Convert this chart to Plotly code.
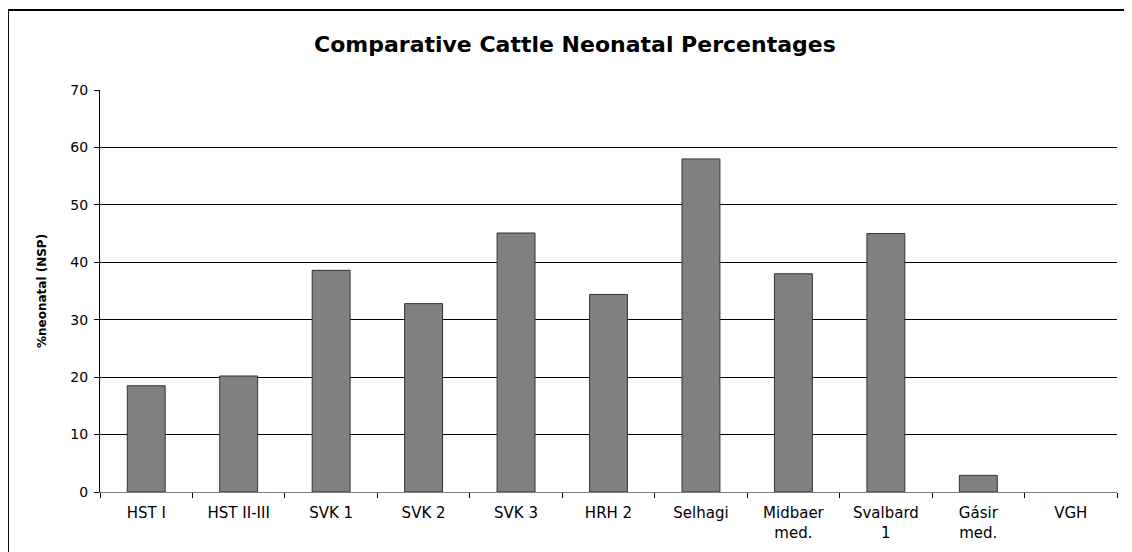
import plotly.graph_objects as go

# data
sites = ["HST I", "HST II-III", "SVK 1", "SVK 2", "SVK 3", "HRH 2", "Selhagi",
         "Midbaer<br>med.", "Svalbard<br>1", "Gásir<br>med.", "VGH"]
neonatal_pct = [18.5, 20.2, 38.6, 32.8, 45.1, 34.4, 58.0, 38.0, 45.0, 2.9, 0]
y_ticks = [0, 10, 20, 30, 40, 50, 60, 70]

FONT = "DejaVu Sans, Liberation Sans, Arial, sans-serif"

fig = go.Figure()

# zero bars get no outline, so nothing shows for VGH
outline_w = [1 if v > 0 else 0 for v in neonatal_pct]

fig.add_trace(go.Bar(
    x=sites, y=neonatal_pct,
    marker=dict(color="#808080", line=dict(color="#333333", width=outline_w)),
    showlegend=False,
))

# outer chart border (left + top, as in the reference)
fig.add_shape(type="line", xref="paper", yref="paper",
              x0=-0.0905, x1=-0.0905, y0=-0.3, y1=1.199,
              line=dict(color="black", width=2))
fig.add_shape(type="line", xref="paper", yref="paper",
              x0=-0.0905, x1=1.03, y0=1.199, y1=1.199,
              line=dict(color="black", width=2))

fig.add_annotation(text="<b>Comparative Cattle Neonatal Percentages</b>",
                   xref="paper", yref="paper", x=0.467, y=1.112,
                   xanchor="center", yanchor="middle", showarrow=False,
                   font=dict(size=22, color="black", family=FONT))
fig.add_annotation(text="<b>%neonatal (NSP)</b>", textangle=-90,
                   xref="paper", yref="paper", x=-0.057, y=0.50,
                   xanchor="center", yanchor="middle", showarrow=False,
                   font=dict(size=12, color="black", family=FONT))

# margins allow for the 8px page offset of the html body
fig.update_layout(
    width=1132, height=552,
    paper_bgcolor="white", plot_bgcolor="white",
    margin=dict(l=92, r=23, t=82, b=68),
    bargap=0.59,
    font=dict(family=FONT, size=14, color="black"),
)
fig.update_yaxes(range=[0, 70], tickvals=y_ticks, showgrid=True,
                 gridcolor="black", gridwidth=1, showline=True,
                 linecolor="black", linewidth=1, ticks="outside", ticklen=5,
                 tickcolor="black", zeroline=False, tickfont=dict(size=14),
                 ticklabelstandoff=3)
fig.update_xaxes(showline=True, linecolor="#808080", linewidth=1,
                 ticks="outside", ticklen=5, tickcolor="black",
                 tickson="boundaries", tickfont=dict(size=15),
                 ticklabelstandoff=7)

fig.write_html("out.html")
